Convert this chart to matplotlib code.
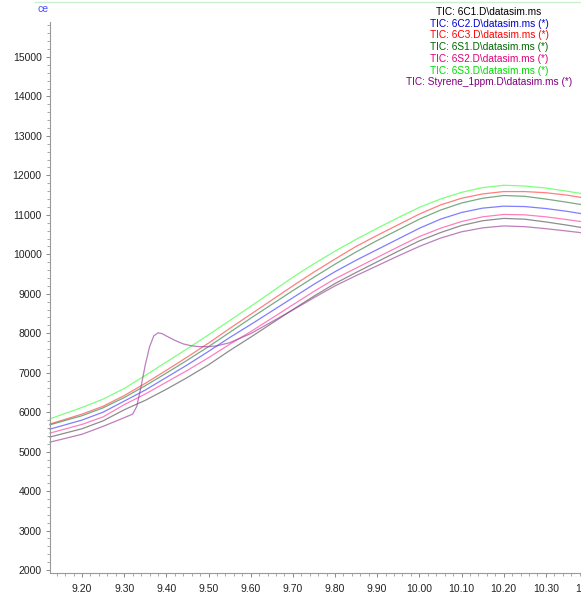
import matplotlib
matplotlib.use("Agg")
import matplotlib.pyplot as plt
from matplotlib.ticker import MultipleLocator, FormatStrFormatter

plt.rcParams['font.family'] = ['Liberation Sans', 'DejaVu Sans']

# retention time (min)
t = [9.124, 9.20, 9.25, 9.30, 9.35, 9.40, 9.45, 9.50, 9.55, 9.60, 9.65, 9.70, 9.75,
     9.80, 9.85, 9.90, 9.95, 10.00, 10.05, 10.10, 10.15, 10.20, 10.25, 10.30, 10.35, 10.39]

s6C1 = [5370, 5580, 5780, 6060, 6300, 6580, 6880, 7200, 7560, 7900, 8250, 8600, 8940,
        9260, 9540, 9810, 10080, 10340, 10550, 10730, 10850, 10910, 10890, 10820, 10740, 10670]
s6C2 = [5570, 5800, 6000, 6280, 6560, 6880, 7200, 7540, 7890, 8220, 8560, 8900, 9240,
        9560, 9850, 10120, 10390, 10660, 10890, 11060, 11170, 11220, 11210, 11160, 11090, 11020]
s6C3 = [5700, 5950, 6150, 6420, 6730, 7060, 7400, 7750, 8120, 8480, 8840, 9200, 9550,
        9880, 10200, 10480, 10750, 11020, 11250, 11420, 11530, 11590, 11590, 11560, 11500, 11430]
s6S1 = [5680, 5910, 6110, 6370, 6670, 6990, 7320, 7660, 8020, 8380, 8730, 9080, 9420,
        9750, 10060, 10350, 10620, 10890, 11120, 11300, 11420, 11490, 11470, 11400, 11320, 11250]
s6S2 = [5470, 5690, 5880, 6190, 6460, 6760, 7060, 7380, 7720, 8040, 8380, 8720, 9060,
        9380, 9650, 9920, 10190, 10450, 10660, 10830, 10950, 11010, 11000, 10950, 10880, 10820]
s6S3 = [5830, 6120, 6330, 6600, 6930, 7270, 7610, 7960, 8320, 8680, 9050, 9420, 9760,
        10080, 10380, 10660, 10930, 11190, 11400, 11570, 11690, 11750, 11730, 11680, 11600, 11530]

t_sty = [9.124, 9.20, 9.25, 9.30, 9.32, 9.33, 9.34, 9.35, 9.36, 9.37, 9.38, 9.39, 9.40,
         9.42, 9.44, 9.46, 9.48, 9.50, 9.52, 9.55, 9.60, 9.65, 9.70, 9.75, 9.80, 9.85,
         9.90, 9.95, 10.00, 10.05, 10.10, 10.15, 10.20, 10.25, 10.30, 10.35, 10.39]
sSty = [5240, 5440, 5640, 5860, 5950, 6150, 6650, 7200, 7650, 7930, 8010, 7990, 7930,
        7820, 7730, 7680, 7660, 7660, 7680, 7760, 7990, 8290, 8590, 8900, 9200, 9460,
        9710, 9960, 10200, 10410, 10570, 10670, 10720, 10700, 10650, 10590, 10540]

labels = ["TIC: 6C1.D\\datasim.ms", "TIC: 6C2.D\\datasim.ms (*)", "TIC: 6C3.D\\datasim.ms (*)",
          "TIC: 6S1.D\\datasim.ms (*)", "TIC: 6S2.D\\datasim.ms (*)", "TIC: 6S3.D\\datasim.ms (*)",
          "TIC: Styrene_1ppm.D\\datasim.ms (*)"]
line_colors = ['#505050', '#3a3aff', '#ff3a3a', '#2f7f3f', '#ff3a9a', '#3aff3a', '#9a3a9a']
text_colors = ['#000000', '#0000cc', '#ff0000', '#006600', '#e0007a', '#00dd00', '#800080']

fig = plt.figure(figsize=(5.81, 6.03), dpi=100)
W, H = 581.0, 603.0
x_left, x_right = 50, 588
y_top, y_bot = 22, 573
ax = fig.add_axes([x_left / W, 1 - y_bot / H, (x_right - x_left) / W, (y_bot - y_top) / H])

series = [(t, s6C1), (t, s6C2), (t, s6C3), (t, s6S1), (t, s6S2), (t, s6S3), (t_sty, sSty)]
for (xx, yy), c in zip(series, line_colors):
    ax.plot(xx, yy, color=c, lw=0.9, alpha=0.65, clip_on=False)

ax.set_xlim(9.124, 10.40)
ax.set_ylim(1924, 15887)

ax.xaxis.set_major_locator(MultipleLocator(0.1))
ax.xaxis.set_minor_locator(MultipleLocator(0.02))
ax.xaxis.set_major_formatter(FormatStrFormatter('%.2f'))
ax.yaxis.set_major_locator(MultipleLocator(1000))
ax.yaxis.set_minor_locator(MultipleLocator(200))
ax.yaxis.set_major_formatter(FormatStrFormatter('%d'))

for s in ['top', 'right']:
    ax.spines[s].set_visible(False)
for s in ['left', 'bottom']:
    ax.spines[s].set_color('#9a9a9a')
    ax.spines[s].set_linewidth(0.8)

ax.tick_params(axis='both', which='major', length=3, width=0.7, color='#8a8a8a',
               labelsize=7.5, labelcolor='#222222', pad=3)
ax.tick_params(axis='x', which='major', pad=5)
ax.tick_params(axis='both', which='minor', length=2, width=0.6, color='#9a9a9a')
ax.set_yticks(range(2000, 15001, 1000))

# legend text block
lx = 489 / W
for i, (lab, c) in enumerate(zip(labels, text_colors)):
    fig.text(lx, 1 - (12 + i * 11.7) / H, lab, color=c, fontsize=7.3,
             ha='center', va='center')

fig.text(38 / W, 1 - 9 / H, "ce", color='#4a4aff', fontsize=7.5, ha='left', va='center')
fig.add_artist(plt.Line2D([35 / W, 1], [1 - 2 / H, 1 - 2 / H], color='#ccf0cc', lw=1.0))

fig.savefig("out.png", dpi=100, facecolor='white')
